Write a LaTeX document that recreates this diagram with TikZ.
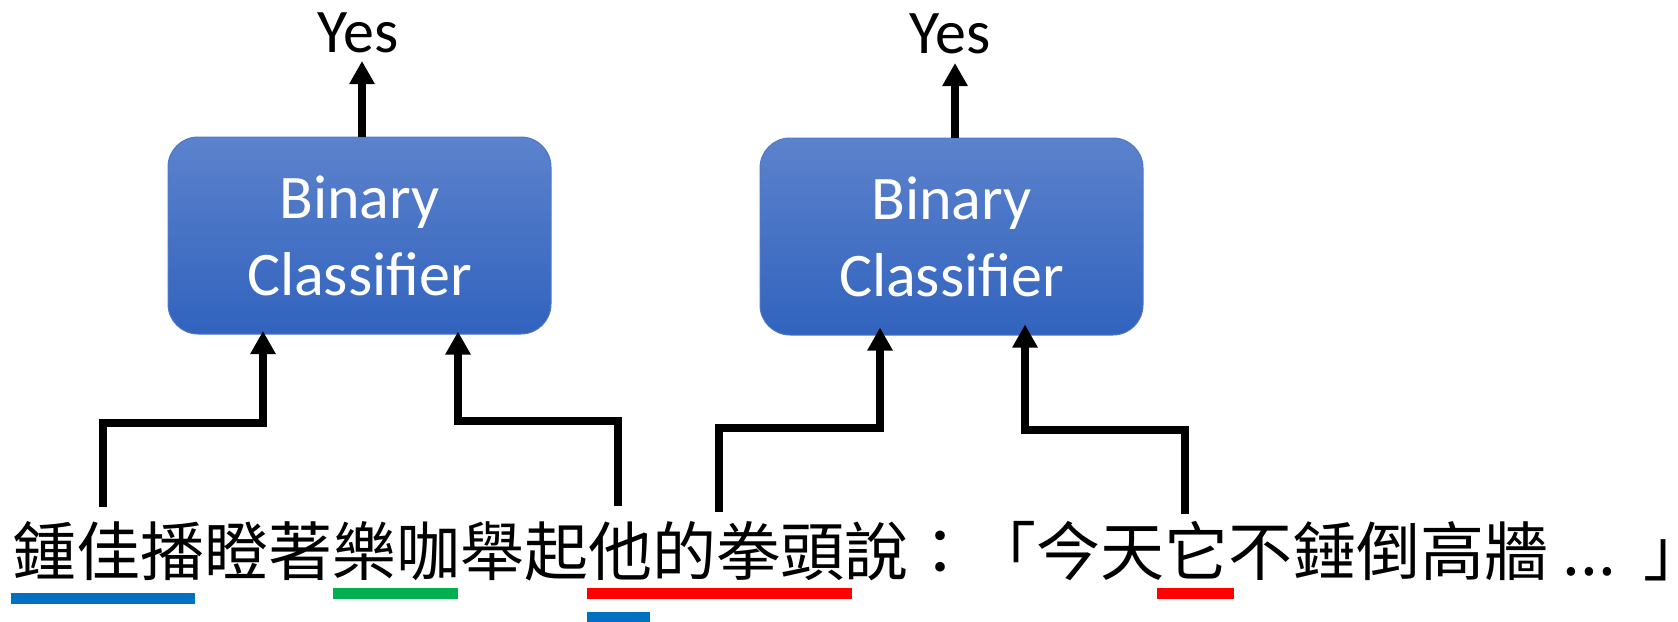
\documentclass[tikz,border=0pt]{standalone}
\usepackage{fontspec}
\setmainfont{Carlito}
\newfontfamily\cjk{Noto Sans CJK TC}
\usetikzlibrary{arrows.meta,calc}
\definecolor{boxtop}{RGB}{92,130,204}
\definecolor{boxbot}{RGB}{49,99,190}
\definecolor{boxedge}{RGB}{80,120,200}
\definecolor{ulblue}{RGB}{0,112,192}
\definecolor{ulgreen}{RGB}{0,176,80}
\definecolor{ulred}{RGB}{255,0,0}
\begin{document}
\begin{tikzpicture}[x=1pt,y=-1pt,
  clsbox/.style={draw=boxedge, line width=1pt, rounded corners=30pt,
    top color=boxtop, bottom color=boxbot, minimum width=383pt, minimum height=197pt,
    inner sep=0pt, text=white, align=center, font=\fontsize{62}{77}\selectfont},
  yeslabel/.style={inner sep=0pt, anchor=base, font=\fontsize{62}{70}\selectfont},
  conn/.style={line width=7.5pt, line join=miter, -{Triangle[length=23pt,width=24pt]}},
  ul/.style={line width=11pt}
]
\useasboundingbox (0,0) rectangle (1678,621);

% boxes
\node[clsbox] (b1) at (359.5,235.5) {Binary\\Classifier};
\node[clsbox] (b2) at (951.5,236.5) {Binary\\Classifier};

% Yes labels
\node[yeslabel] (y1) at (358,52) {Yes};
\node[yeslabel] (y2) at (950,53) {Yes};
\coordinate (t1) at (362,61);
\coordinate (t2) at (955,63);
\draw[conn] (b1.north -| t1) -- (t1);
\draw[conn] (b2.north -| t2) -- (t2);

% sentence
\node[inner sep=0pt, anchor=base west, font=\cjk\fontsize{64}{70}\selectfont] (s) at (12,575)
  {鍾佳播瞪著樂咖舉起他的拳頭說：「今天它不錘倒高牆 ...\kern28pt\rlap{」}};

% connector start points and bends
\coordinate (sa) at (103,507);
\coordinate (ka) at (263,423);
\coordinate (sb) at (618,506);
\coordinate (kb) at (458,421);
\coordinate (sc) at (719,512);
\coordinate (kc) at (880,428);
\coordinate (sd) at (1185,514);
\coordinate (kd) at (1025,430);

\draw[conn, shorten >=-3.5pt] (sa) |- (ka) -- (ka |- b1.south);
\draw[conn, shorten >=-3pt] (sb) |- (kb) -- (kb |- b1.south);
\draw[conn, shorten >=-8pt] (sc) |- (kc) -- (kc |- b2.south);
\draw[conn, shorten >=-11pt] (sd) |- (kd) -- (kd |- b2.south);

% underlines
\draw[ul, ulblue] (11,598.5) -- (195,598.5);
\draw[ul, ulgreen] (333,593.5) -- (458,593.5);
\draw[ul, ulred] (587,593.5) -- (852,593.5);
\draw[ul, ulblue, line width=10pt] (587,617) -- (650,617);
\draw[ul, ulred] (1157,593.5) -- (1234,593.5);
\end{tikzpicture}
\end{document}
